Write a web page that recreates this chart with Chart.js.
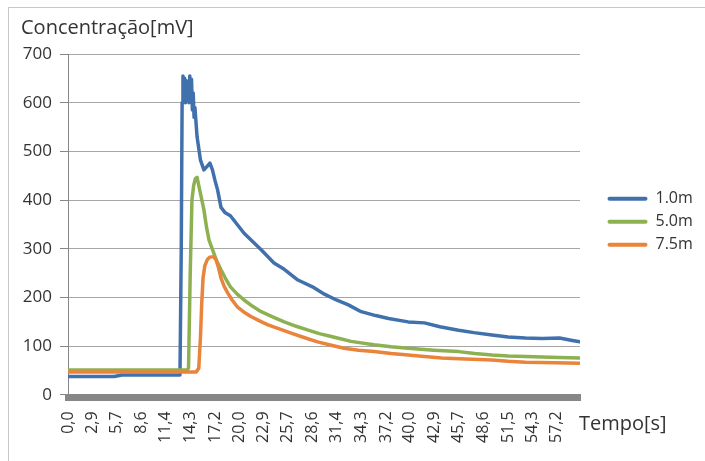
<!DOCTYPE html>
<html><head><meta charset="utf-8">
<script src="https://cdn.jsdelivr.net/npm/chart.js@4"></script>
<style>
html,body{margin:0;padding:0;background:#fff;overflow:hidden}
#wrap{position:absolute;left:8px;top:7px;width:697px;height:454px;border-left:1px solid #c8c8c8;border-top:1px solid #c8c8c8;box-sizing:border-box}
canvas{display:block}
</style></head><body>
<div id="wrap"><canvas id="c"></canvas></div>
<script>
const yAxisTitle = 'Concentração[mV]';
const xAxisTitle = 'Tempo[s]';
const tickLabels = ['0,0','2,9','5,7','8,6','11,4','14,3','17,2','20,0','22,9','25,7','28,6','31,4','34,3','37,2','40,0','42,9','45,7','48,6','51,5','54,3','57,2'];
const yTicks = [0,100,200,300,400,500,600,700];
const seriesNames = ['1.0m','5.0m','7.5m'];
const seriesColors = ['#4171ad','#8db151','#e9843a'];

const tBlue = [0,5.4,6.3,13.1,13.25,13.35,13.45,13.55,13.65,13.75,13.85,13.95,14.05,14.15,14.25,14.35,14.45,14.55,14.65,14.75,14.85,15.1,15.5,15.9,16.3,16.6,16.9,17.2,17.5,17.9,18.4,19.0,19.8,20.6,21.6,22.6,24.1,25.3,26.9,28.6,30.0,31.4,32.8,34.3,36.0,37.5,39.8,41.7,43.5,45.7,47.5,49.6,51.5,53.5,55.5,57.5,59.0,59.9];
const vBlue = [38,38,41,41,300,600,655,605,650,600,645,610,640,600,655,615,648,585,620,570,590,530,482,462,470,476,462,440,421,385,374,368,350,332,315,298,271,258,236,222,207,195,185,171,163,157,150,148,140,133,128,123,119,117,116,117,112,109];

const tGreen = [0,13.9,14.1,14.3,14.5,14.7,14.9,15.1,15.3,15.6,15.9,16.2,16.5,17.0,17.4,17.9,18.4,19.0,19.8,20.6,21.6,22.6,24.0,25.3,26.7,28.1,29.4,30.8,32.0,33.1,35.8,37.8,39.8,42.8,45.7,47.6,49.6,51.5,53.5,57.5,59.9];
const vGreen = [51,51,55,250,400,430,444,447,430,405,380,345,318,294,275,257,240,222,207,195,182,171,160,150,141,133,126,120,115,110,103,99,96,92,89,85,82,80,79,77,76];

const tOrange = [0,15.0,15.3,15.5,15.65,15.8,16.0,16.3,16.6,17.0,17.3,17.6,17.9,18.3,18.7,19.2,19.8,20.6,21.4,22.4,23.4,24.8,26.1,27.6,29.2,30.8,32.3,34.0,35.8,37.8,39.8,41.7,43.7,46.5,49.6,51.5,53.5,57.0,59.9];
const vOrange = [47,47,55,120,190,240,265,278,283,284,278,262,240,222,209,195,181,170,161,152,144,135,127,118,109,102,96,92,89,85,82,79,76,74,72,69,67,66,65];

const tickValues = tickLabels.map(s => parseFloat(s.replace(',', '.')));
const toPts = (ts, vs) => ts.map((t, i) => ({x: t, y: vs[i]}));
const allT = [tBlue, tGreen, tOrange];
const allV = [vBlue, vGreen, vOrange];

Chart.defaults.font.family = "'Open Sans', sans-serif";
Chart.defaults.color = '#333';

const datasets = seriesNames.map((name, i) => ({
  label: name,
  data: toPts(allT[i], allV[i]),
  borderColor: seriesColors[i],
  backgroundColor: seriesColors[i],
  borderWidth: 3.5,
  pointRadius: 0,
  tension: 0,
  fill: false,
  borderJoinStyle: 'round',
  borderCapStyle: 'round',
  order: 3 - i
}));

const xTitlePlugin = {
  id: 'xTitle',
  afterDraw(chart) {
    const {ctx, chartArea} = chart;
    ctx.save();
    ctx.font = "20px 'Open Sans', sans-serif";
    ctx.fillStyle = '#333';
    ctx.textAlign = 'left';
    ctx.textBaseline = 'alphabetic';
    ctx.fillText(xAxisTitle, chartArea.right - 1, chartArea.bottom + 33);
    ctx.restore();
  }
};
const legendShift = {
  id: 'legendShift',
  afterLayout(chart) {
    const l = chart.legend;
    if (l) { l.top -= 4; l.bottom -= 4; }
  }
};

new Chart(document.getElementById('c'), {
  type: 'line',
  data: { datasets },
  plugins: [xTitlePlugin, legendShift],
  options: {
    responsive: true,
    maintainAspectRatio: false,
    animation: false,
    layout: { padding: { left: 12, right: 4.5, top: 0, bottom: 0 } },
    plugins: {
      title: { display: true, text: yAxisTitle, align: 'start', color: '#333',
               font: { size: 20, weight: 'normal' }, padding: { top: 8, bottom: 14 } },
      legend: {
        position: 'right', fullSize: false, maxWidth: 100,
        labels: {
          boxWidth: 40, boxHeight: 4, padding: 7, color: '#333', font: { size: 16 },
          sort: (a, b) => a.datasetIndex - b.datasetIndex,
          generateLabels: chart => Chart.defaults.plugins.legend.labels.generateLabels(chart)
            .map(l => Object.assign(l, { lineWidth: 0, fillStyle: seriesColors[l.datasetIndex], borderRadius: 2 }))
        }
      },
      tooltip: { enabled: false }
    },
    scales: {
      x: {
        type: 'linear', min: 0, max: 59.9,
        grid: { display: false, drawTicks: false },
        border: { display: true, color: '#878787', width: 7 },
        ticks: { autoSkip: false, minRotation: 90, maxRotation: 90, padding: 14, color: '#333',
                 font: { size: 16 }, callback: (v, i) => tickLabels[i] },
        afterBuildTicks: s => { s.ticks = tickValues.map(v => ({ value: v })); },
        afterFit: s => { s.height = 63.6; }
      },
      y: {
        min: -5, max: 700,
        afterBuildTicks: s => { s.ticks = yTicks.map(v => ({ value: v })); },
        grid: { color: '#a6a6a6', tickColor: '#878787', tickLength: 8, lineWidth: 1 },
        border: { display: true, color: '#878787', width: 1 },
        ticks: { padding: 8, color: '#333', font: { size: 17 }, callback: v => String(v) },
        afterFit: s => { s.width = 47; }
      },
      yPad: {
        type: 'linear', position: 'right', display: true,
        grid: { display: false }, border: { display: false }, ticks: { display: false },
        afterFit: s => { s.width = 20.5; }
      }
    }
  }
});
</script>
</body></html>
